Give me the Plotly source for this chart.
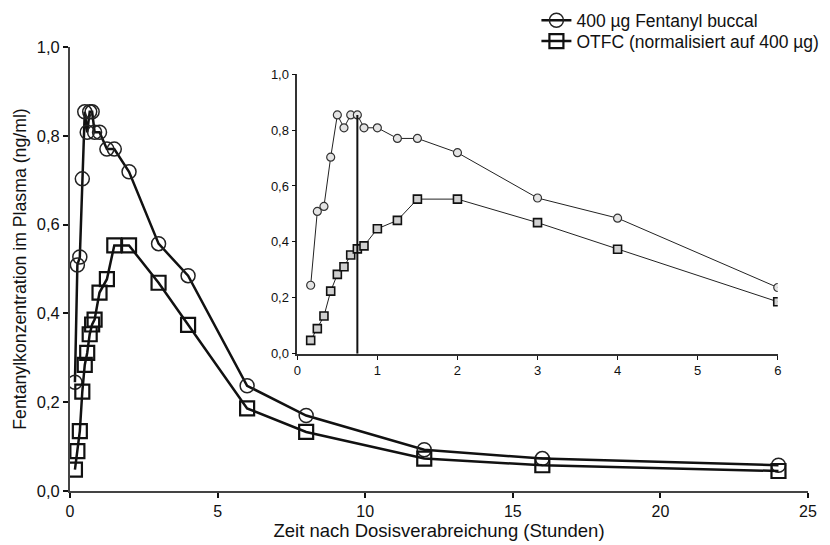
import plotly.graph_objects as go

# Zeit in Stunden
hours = [0.167, 0.25, 0.333, 0.417, 0.5, 0.583, 0.667, 0.75, 0.833, 1.0,
         1.25, 1.5, 2, 3, 4, 6, 8, 12, 16, 24]
# 400 µg Fentanyl buccal (ng/ml)
buccal = [0.245, 0.509, 0.527, 0.703, 0.854, 0.808, 0.854, 0.854, 0.808, 0.808,
          0.770, 0.770, 0.719, 0.557, 0.485, 0.237, 0.170, 0.093, 0.073, 0.058]
# OTFC normalisiert auf 400 µg (ng/ml)
otfc = [0.048, 0.090, 0.135, 0.224, 0.284, 0.311, 0.353, 0.375, 0.386, 0.447,
        0.477, 0.553, 0.553, 0.469, 0.374, 0.186, 0.133, 0.073, 0.058, 0.045]

tmax = 0.75
inset_hours = [h for h in hours if h <= 6]
n_in = len(inset_hours)

FONT = "Liberation Sans, Arial, sans-serif"

fig = go.Figure()

# Hauptdiagramm
fig.add_trace(go.Scatter(
    x=hours, y=buccal, mode="lines+markers", name="400 µg Fentanyl buccal",
    legend="legend",
    line=dict(color="#111", width=2.5),
    marker=dict(symbol="circle-open", size=14, color="#222", line=dict(width=1.5)),
))
fig.add_trace(go.Scatter(
    x=hours, y=otfc, mode="lines+markers", name="OTFC (normalisiert auf 400 µg)",
    legend="legend2",
    line=dict(color="#111", width=2.5),
    marker=dict(symbol="square-open", size=14, color="#111", line=dict(width=2.2)),
))

# Ausschnitt 0-6 h
fig.add_trace(go.Scatter(
    x=inset_hours, y=buccal[:n_in], mode="lines+markers", showlegend=False,
    xaxis="x2", yaxis="y2",
    line=dict(color="#222", width=1),
    marker=dict(symbol="circle", size=8, color="#e4e4e4", line=dict(color="#333", width=1.2)),
))
fig.add_trace(go.Scatter(
    x=inset_hours, y=otfc[:n_in], mode="lines+markers", showlegend=False,
    xaxis="x2", yaxis="y2",
    line=dict(color="#222", width=1),
    marker=dict(symbol="square", size=8, color="#d0d0d0", line=dict(color="#111", width=1.6)),
))
fig.add_trace(go.Scatter(
    x=[tmax, tmax], y=[0, buccal[hours.index(tmax)]], mode="lines", showlegend=False,
    xaxis="x2", yaxis="y2", line=dict(color="#111", width=2),
))

axis_common = dict(showgrid=False, zeroline=False, showline=True, ticks="outside",
                   color="#111")
legend_common = dict(xanchor="left", yanchor="middle", font=dict(size=17.5),
                     bgcolor="rgba(0,0,0,0)", itemwidth=30)

fig.update_layout(
    width=830, height=545,
    margin=dict(l=62, r=30, t=39, b=62, autoexpand=False),
    paper_bgcolor="white", plot_bgcolor="white",
    separators=",.",
    font=dict(family=FONT, color="#111", size=16),
    xaxis=dict(**axis_common, range=[0, 25], tickvals=[0, 5, 10, 15, 20, 25],
               linecolor="#444", linewidth=2, ticklen=5, tickwidth=1.5,
               tickfont=dict(size=16),
               title=dict(text="Zeit nach Dosisverabreichung (Stunden)",
                          font=dict(size=18.5), standoff=0)),
    yaxis=dict(**axis_common, range=[0, 1.0], tickvals=[0, 0.2, 0.4, 0.6, 0.8, 1.0],
               tickformat=".1f", linecolor="#444", linewidth=2, ticklen=5, tickwidth=1.5,
               tickfont=dict(size=16.5),
               title=dict(text="Fentanylkonzentration im Plasma (ng/ml)",
                          font=dict(size=17.7), standoff=6)),
    xaxis2=dict(**axis_common, domain=[0.308, 0.959], anchor="y2", range=[0, 6],
                tickvals=[0, 1, 2, 3, 4, 5, 6], linecolor="#333", linewidth=1.5,
                ticklen=4, tickwidth=1, tickfont=dict(size=13)),
    yaxis2=dict(**axis_common, domain=[0.309, 0.939], anchor="x2", range=[0, 1.0],
                tickvals=[0, 0.2, 0.4, 0.6, 0.8, 1.0], tickformat=".1f",
                linecolor="#333", linewidth=1.5, ticklen=4, tickwidth=1,
                tickfont=dict(size=13)),
    legend=dict(x=0.632, y=1.06, **legend_common),
    legend2=dict(x=0.632, y=1.013, **legend_common),
)

fig.write_html("out.html")
